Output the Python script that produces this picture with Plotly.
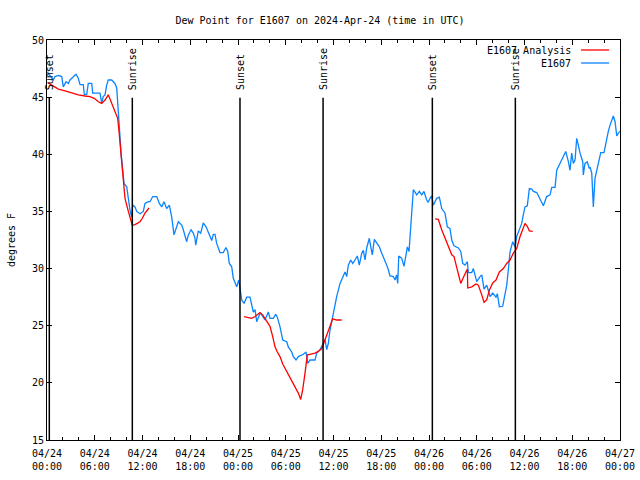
import plotly.graph_objects as go

# Observed dew point (hours since 2024-04-24 00:00 UTC)
obs_hours = [0.04, 0.38, 0.79, 1.0, 1.42, 1.85, 2.05, 2.39, 2.68, 2.89, 3.3, 3.64, 3.93, 4.15, 4.56, 4.69, 4.99, 5.19, 5.62, 5.74,
             6.66, 6.87, 7.07, 7.29, 7.5, 7.7, 8.13, 8.54, 8.76, 8.88, 9.01, 9.17, 9.3, 9.51, 9.68, 10.02, 10.22, 10.43, 10.64, 10.77,
             11.06, 11.27, 11.69, 12.1, 12.31, 12.73, 12.94, 13.28, 13.79, 14.11, 14.41, 14.7, 15.04, 15.37, 15.67, 15.87, 15.96, 16.5, 16.93, 17.13,
             17.55, 17.76, 18.1, 18.38, 18.6, 18.69, 19.01, 19.31, 19.64, 19.98, 20.27, 20.7, 20.9, 21.11, 21.32, 21.74, 22.15, 22.49, 22.71, 22.91,
             23.21, 23.41, 23.84, 24.09, 24.25, 24.47, 24.76, 25.09, 25.51, 25.72, 25.92, 26.14, 26.35, 26.77, 26.98, 27.39, 27.81, 28.02, 28.44, 28.74,
             28.94, 29.28, 29.62, 30.12, 30.32, 30.75, 30.95, 31.29, 31.58, 32.21, 32.55, 32.76, 33.05, 33.68, 33.89, 34.31, 34.65, 34.93, 35.15, 35.35,
             35.56, 35.98, 36.4, 36.82, 36.91, 37.23, 37.45, 37.66, 37.86, 38.16, 38.42, 38.7, 38.99, 39.24, 39.55, 39.75, 39.96, 40.17, 40.37, 40.5,
             40.68, 40.88, 41.13, 41.43, 41.76, 42.06, 42.26, 42.69, 42.89, 43.1, 43.52, 43.73, 43.94, 44.07, 44.2, 44.57, 44.86, 45.11, 45.28, 45.49,
             45.7, 45.87, 46.03, 46.46, 46.78, 47.09, 47.37, 47.71, 47.91, 48.13, 48.34, 48.54, 48.97, 49.3, 49.6, 50.01, 50.3, 50.64, 50.86, 51.14,
             51.69, 51.99, 52.24, 52.53, 52.82, 52.94, 53.37, 53.57, 53.78, 54.0, 54.41, 54.63, 54.92, 55.25, 55.45, 55.67, 56.01, 56.42, 56.59, 56.84,
             57.26, 57.47, 57.77, 57.97, 58.18, 58.52, 58.81, 59.02, 59.23, 59.65, 59.85, 60.06, 60.35, 60.61, 60.91, 61.11, 61.54, 61.95, 62.37, 62.79,
             63.21, 63.42, 63.84, 64.05, 64.46, 64.88, 65.18, 65.51, 65.72, 65.93, 66.14, 66.35, 66.56, 66.76, 66.98, 67.32, 67.39, 67.6, 67.89, 68.15,
             68.23, 68.45, 68.57, 68.65, 68.86, 69.08, 69.37, 69.58, 69.99, 70.2, 70.53, 70.75, 70.96, 71.16, 71.38, 71.59, 71.79, 72.0]
obs_values = [47.2, 46.9, 46.5, 46.8, 46.9, 46.8, 45.9, 46.35, 46.2, 46.5, 46.8, 47.0, 46.65, 46.1, 46.1, 45.25, 45.25, 46.2, 46.2, 45.35,
              45.35, 44.5, 45.05, 45.2, 46.05, 46.5, 46.5, 46.2, 45.8, 44.75, 43.3, 41.55, 40.1, 38.35, 37.45, 37.15, 36.0, 35.1, 34.5, 35.55,
              35.4, 35.0, 34.8, 35.0, 35.7, 35.85, 35.85, 36.3, 36.3, 35.7, 35.4, 35.85, 35.25, 35.55, 34.5, 33.5, 32.95, 34.1, 33.8, 33.4,
              32.35, 32.95, 33.4, 33.1, 32.65, 32.05, 33.3, 33.1, 34.0, 33.65, 33.1, 32.45, 33.0, 33.0, 32.2, 31.4, 31.4, 31.85, 31.5, 30.45,
              30.15, 29.15, 28.4, 29.0, 28.3, 27.25, 26.95, 27.5, 27.5, 26.65, 26.2, 26.4, 25.35, 26.1, 25.95, 25.5, 26.2, 25.65, 25.65, 26.0,
              25.75, 24.9, 23.75, 23.6, 23.15, 22.7, 22.3, 22.0, 22.3, 22.5, 22.7, 21.7, 22.0, 22.0, 22.6, 22.9, 23.45, 23.8, 22.9, 23.45,
              24.6, 26.1, 27.55, 28.7, 28.85, 29.3, 29.7, 29.3, 30.3, 30.75, 30.45, 30.75, 31.1, 30.3, 31.35, 31.6, 30.75, 31.8, 32.5, 32.65,
              31.9, 31.2, 32.55, 32.2, 31.9, 31.35, 31.05, 30.3, 29.9, 29.35, 29.3, 29.0, 29.45, 28.7, 31.1, 30.9, 30.2, 31.2, 31.9, 31.5,
              33.4, 34.85, 36.9, 36.45, 36.75, 36.45, 36.75, 36.0, 35.8, 36.15, 36.35, 35.55, 36.15, 36.25, 35.25, 34.85, 33.65, 33.5, 32.5, 32.0,
              31.8, 31.5, 30.45, 30.3, 30.6, 29.65, 29.65, 30.0, 29.45, 28.85, 29.3, 29.45, 28.2, 28.55, 28.1, 27.55, 27.85, 27.5, 27.8, 26.65,
              26.7, 27.4, 28.55, 29.9, 31.45, 32.35, 31.9, 32.8, 33.25, 33.95, 34.7, 35.4, 35.5, 37.0, 36.95, 36.75, 36.65, 36.05, 35.5, 36.3,
              36.45, 37.1, 37.1, 38.6, 39.2, 39.95, 40.25, 39.35, 38.6, 40.1, 39.2, 39.5, 41.4, 40.8, 40.1, 39.35, 38.2, 39.2, 39.35, 38.75,
              38.9, 38.35, 36.9, 35.4, 37.9, 38.6, 39.5, 40.15, 40.15, 40.95, 42.0, 42.55, 43.0, 43.35, 42.85, 41.6, 41.85, 42.0]

# Analysis dew point (three segments separated by gaps)
ana_hours = [0.16, 0.67, 1.42, 2.26, 3.1, 3.93, 4.78, 5.4, 5.94, 6.45, 6.87, 7.29, 7.7, 8.13, 8.54, 8.88, 9.05, 9.3, 9.59, 9.8,
             10.22, 10.43, 10.72, 11.06, 11.69, 11.98, 12.31, 12.82, None,
             24.76, 25.3, 25.72, 26.14, 26.43, 26.77, 27.1, 27.39, 27.68, 28.02, 28.36, 28.65, 28.94, 29.28, 29.62, 30.03, 30.32, 30.75, 31.16, 31.58,
             31.88, 32.13, 32.42, 32.71, 33.05, 33.68, 34.09, 34.52, 34.93, 35.35, 35.56, 35.9, 36.4, 37.03, None,
             48.76, 49.17, 49.6, 50.01, 50.43, 50.86, 51.14, 51.48, 51.99, 52.4, 52.82, 52.87, 53.37, 53.91, 54.2, 54.63, 54.92, 55.25, 55.58, 56.01,
             56.42, 56.84, 57.34, 57.77, 58.18, 58.6, 59.02, 59.44, 59.78, 60.06, 60.35, 60.61, 61.03]
ana_values = [46.25, 46.05, 45.7, 45.55, 45.35, 45.2, 45.1, 45.05, 44.9, 44.6, 44.45, 44.75, 45.2, 44.45, 43.75, 43.15, 42.0, 40.25, 38.2, 36.15,
              35.0, 34.4, 33.8, 33.85, 34.1, 34.4, 34.85, 35.3, None,
              25.8, 25.75, 25.65, 25.8, 25.95, 26.15, 25.95, 25.65, 25.25, 24.95, 24.05, 23.15, 22.7, 22.3, 21.65, 21.1, 20.7, 20.1, 19.65, 19.1,
              18.55, 19.4, 20.85, 22.45, 22.5, 22.6, 22.75, 23.0, 23.75, 24.5, 25.05, 25.6, 25.5, 25.5, None,
              34.35, 34.3, 33.4, 32.65, 31.9, 31.2, 31.05, 30.0, 28.7, 29.35, 29.95, 28.3, 28.4, 28.65, 28.55, 27.7, 27.05, 27.25, 28.1, 28.75,
              29.0, 29.7, 30.0, 30.45, 30.75, 31.35, 31.75, 32.8, 33.5, 33.95, 33.7, 33.3, 33.25]

sun_hours = [0.29, 10.72, 24.25, 34.69, 48.42, 58.85]
sun_labels = ["Sunset", "Sunrise", "Sunset", "Sunrise", "Sunset", "Sunrise"]

tick_hours = [0, 6, 12, 18, 24, 30, 36, 42, 48, 54, 60, 66, 72]
tick_labels = ["04/24<br>00:00", "04/24<br>06:00", "04/24<br>12:00", "04/24<br>18:00",
               "04/25<br>00:00", "04/25<br>06:00", "04/25<br>12:00", "04/25<br>18:00",
               "04/26<br>00:00", "04/26<br>06:00", "04/26<br>12:00", "04/26<br>18:00",
               "04/27<br>00:00"]

FONT = "DejaVu Sans Mono"
RED = "#ff0000"
BLUE = "#0a84ff"

fig = go.Figure()
fig.add_trace(go.Scatter(x=obs_hours, y=obs_values, mode="lines", name="E1607",
                         line=dict(color=BLUE, width=1.3), showlegend=False))
fig.add_trace(go.Scatter(x=ana_hours, y=ana_values, mode="lines", name="E1607 Analysis",
                         line=dict(color=RED, width=1.3), connectgaps=False, showlegend=False))

shapes = []
annotations = []
for h, lab in zip(sun_hours, sun_labels):
    shapes.append(dict(type="line", xref="x", yref="y", x0=h, x1=h, y0=15, y1=44.95,
                       line=dict(color="black", width=1.5)))
    annotations.append(dict(x=h, y=45.45, xref="x", yref="y", text=lab, textangle=-90,
                            showarrow=False, xanchor="center", yanchor="bottom",
                            font=dict(family=FONT, size=10, color="black")))

# gnuplot-style legend: text right-aligned, line sample to the right
legend_items = [("E1607 Analysis", RED, 0.975), ("E1607", BLUE, 0.9425)]
for txt, col, yp in legend_items:
    annotations.append(dict(x=0.918, y=yp, xref="paper", yref="paper", text=txt, showarrow=False,
                            xanchor="right", yanchor="middle",
                            font=dict(family=FONT, size=10, color="black")))
    shapes.append(dict(type="line", xref="paper", yref="paper", x0=0.932, x1=0.981, y0=yp, y1=yp,
                       line=dict(color=col, width=1.3)))

fig.update_layout(
    width=640, height=480,
    margin=dict(l=47, r=20, t=40, b=40, autoexpand=False),
    paper_bgcolor="white", plot_bgcolor="white",
    title=dict(text="Dew Point for E1607 on 2024-Apr-24 (time in UTC)", x=0.5, xanchor="center",
               y=1 - 20 / 480, yanchor="middle", font=dict(family=FONT, size=10, color="black")),
    font=dict(family=FONT, size=10, color="black"),
    shapes=shapes, annotations=annotations,
    showlegend=False,
)
fig.update_xaxes(range=[0, 72], tickmode="array", tickvals=tick_hours, ticktext=tick_labels,
                 ticks="inside", ticklen=5, tickcolor="black", showline=True, linecolor="black",
                 linewidth=1, mirror="ticks", showgrid=False, zeroline=False, automargin=False,
                 ticklabelstandoff=4,
                 tickfont=dict(family=FONT, size=10, color="black"),
                 minor=dict(tickmode="linear", tick0=0, dtick=2, ticks="inside", ticklen=3,
                            tickcolor="black", showgrid=False))
fig.update_yaxes(range=[15, 50], tickmode="linear", tick0=15, dtick=5,
                 ticks="inside", ticklen=5, tickcolor="black", showline=True, linecolor="black",
                 linewidth=1, mirror="ticks", showgrid=False, zeroline=False, automargin=False,
                 tickfont=dict(family=FONT, size=10, color="black"),
                 title=dict(text="degrees F", font=dict(family=FONT, size=10, color="black"), standoff=14))

fig.write_html("out.html", config={"displayModeBar": False},
               post_script="document.body.style.margin='0';document.body.style.padding='0';")
